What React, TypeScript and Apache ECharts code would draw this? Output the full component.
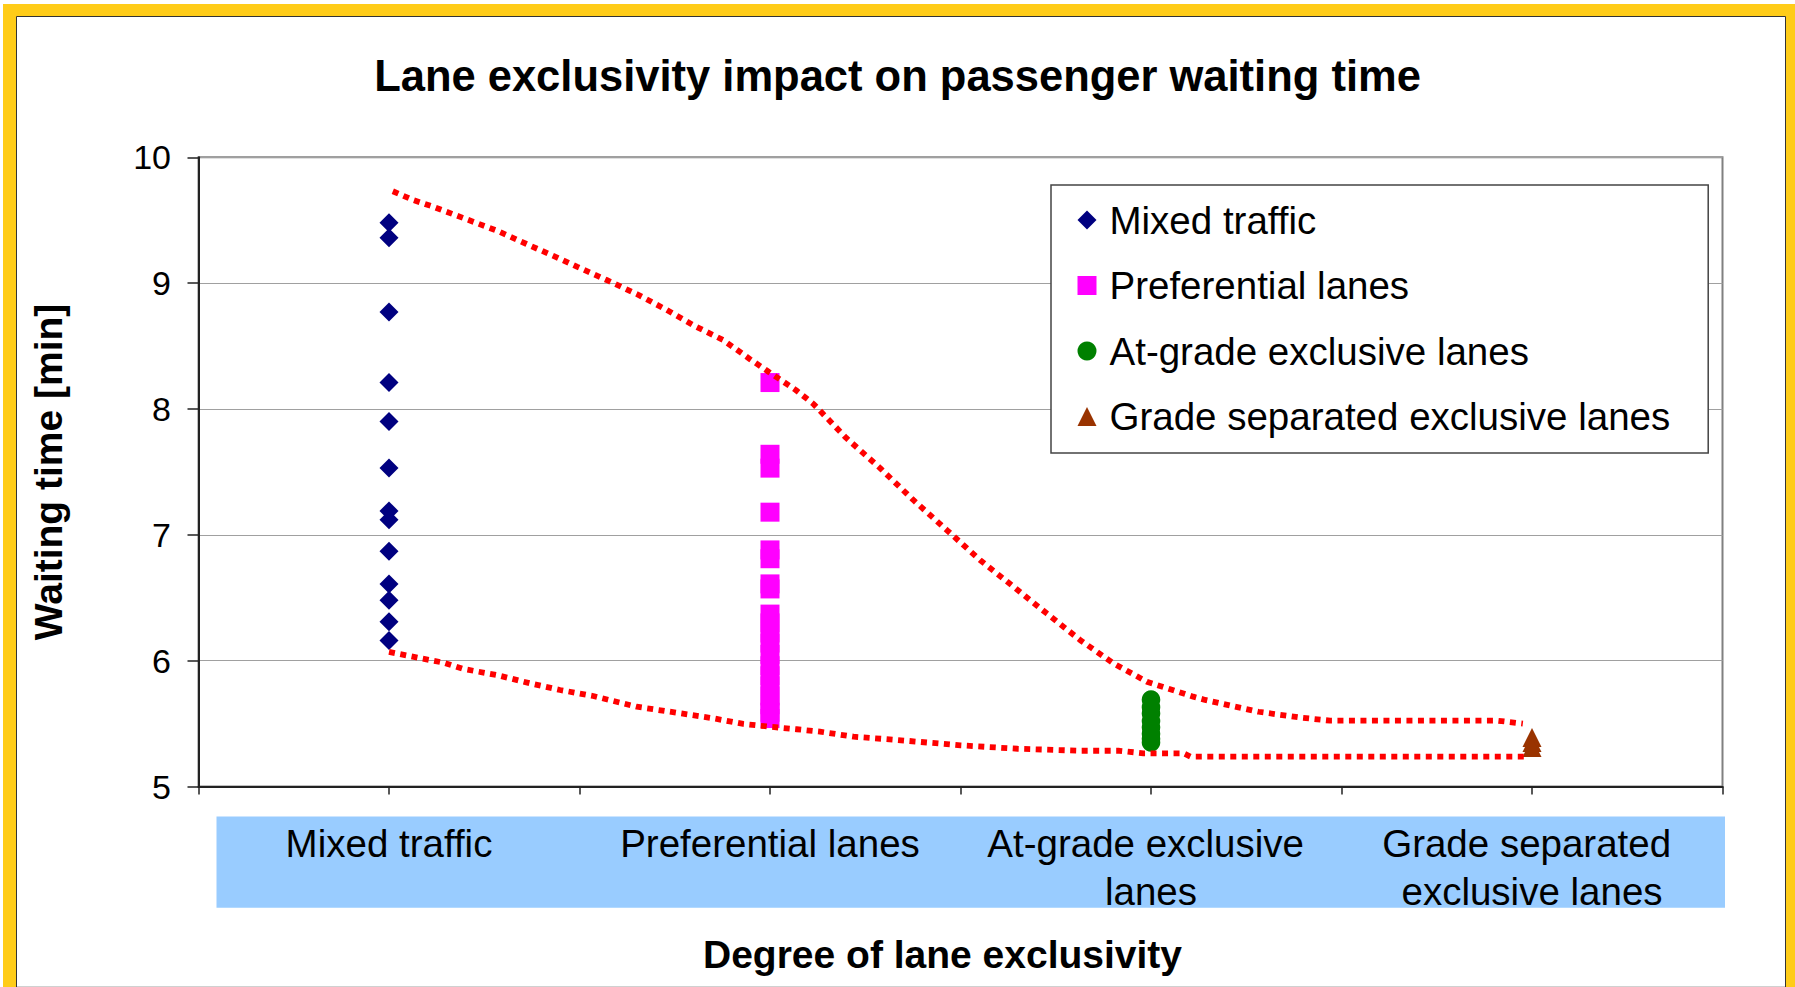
import React, { useEffect, useRef } from "react";
import * as echarts from "echarts";

// Category names along the horizontal axis (x = 1..4)
const categories = [
  "Mixed traffic",
  "Preferential lanes",
  "At-grade exclusive lanes",
  "Grade separated exclusive lanes",
];

// Waiting times [min] observed for each degree of lane exclusivity
const mixedTraffic = [9.48, 9.36, 8.77, 8.21, 7.9, 7.53, 7.19, 7.12, 6.87, 6.61, 6.48, 6.31, 6.16];
const preferentialLanes = [
  8.21, 7.64, 7.53, 7.18, 6.88, 6.81, 6.61, 6.57, 6.37, 6.3, 6.22, 6.14, 6.05, 5.96, 5.88, 5.8,
  5.72, 5.65, 5.59, 5.54,
];
const atGradeLanes = [5.69, 5.63, 5.58, 5.52, 5.47, 5.42, 5.38, 5.35];
const gradeSeparatedLanes = [5.39, 5.35, 5.31];

// Upper and lower envelope of the observed range: [x, waiting time]
const upperBound: [number, number][] = [
  [1.01, 9.73], [1.064, 9.66], [1.116, 9.607], [1.204, 9.507], [1.283, 9.417], [1.361, 9.311],
  [1.44, 9.205], [1.493, 9.131], [1.571, 9.025], [1.65, 8.914], [1.729, 8.787], [1.803, 8.659],
  [1.877, 8.548], [1.948, 8.395], [1.996, 8.296], [2.068, 8.15], [2.114, 8.04], [2.2, 7.77],
  [2.289, 7.53], [2.376, 7.277], [2.464, 7.038], [2.551, 6.8], [2.639, 6.588], [2.726, 6.376],
  [2.814, 6.164], [2.901, 5.979], [2.989, 5.833], [3.111, 5.714], [3.142, 5.688], [3.282, 5.594],
  [3.395, 5.547], [3.47, 5.523], [3.91, 5.523], [3.976, 5.5],
];
const lowerBound: [number, number][] = [
  [1.0, 6.07], [1.081, 6.02], [1.143, 5.984], [1.195, 5.934], [1.283, 5.886], [1.37, 5.82],
  [1.449, 5.767], [1.536, 5.719], [1.65, 5.634], [1.764, 5.582], [1.851, 5.542], [1.93, 5.497],
  [2.0, 5.475], [2.07, 5.455], [2.131, 5.436], [2.219, 5.396], [2.333, 5.37], [2.5, 5.327],
  [2.65, 5.3], [2.814, 5.284], [2.917, 5.284], [2.98, 5.264], [3.085, 5.264], [3.104, 5.237],
  [3.985, 5.237],
];

const Y_MIN = 5;
const Y_MAX = 10;
const Y_STEP = 1;

const FONT = "'Liberation Sans', Arial, Helvetica, sans-serif";

const toPoints = (idx: number, values: number[]) => values.map((v) => [idx + 1, v]);

export default function App() {
  const ref = useRef<HTMLDivElement>(null);

  useEffect(() => {
    if (!ref.current) return;
    const chart = echarts.init(ref.current, undefined, { renderer: "svg" });

    const envelopeStyle = {
      color: "#FF0000",
      width: 5.8,
      type: [6, 5.5] as number[],
    };

    chart.setOption({
      animation: false,
      backgroundColor: "#ffffff",
      textStyle: { fontFamily: FONT },
      title: {
        text: "Lane exclusivity impact on passenger waiting time",
        left: "center",
        top: 54,
        padding: 0,
        textStyle: { fontSize: 43.5, fontWeight: "bold", color: "#000", fontFamily: FONT },
      },
      graphic: [
        { type: "rect", silent: true, z: -30, shape: { x: 3, y: 4, width: 1800, height: 1000 }, style: { fill: "#FFCC18" } },
        {
          type: "rect", silent: true, z: -29,
          shape: { x: 16.5, y: 16.5, width: 1769, height: 975 },
          style: { fill: "#ffffff", stroke: "#333333", lineWidth: 1 },
        },
        { type: "line", silent: true, z: -28, shape: { x1: 17, y1: 986.5, x2: 1785, y2: 986.5 }, style: { stroke: "#d0d0d0", lineWidth: 1 } },
        { type: "rect", silent: true, z: -27, shape: { x: 216.5, y: 816.5, width: 1508.5, height: 91.2 }, style: { fill: "#99CCFF" } },
      ],
      legend: {
        data: categories,
        orient: "vertical",
        left: 1051,
        top: 185,
        padding: [15, 38, 16.5, 26.5],
        itemGap: 25.5,
        itemWidth: 19,
        itemHeight: 19,
        borderColor: "#444",
        borderWidth: 1.5,
        backgroundColor: "#ffffff",
        selectedMode: false,
        textStyle: { fontSize: 38.5, lineHeight: 40, color: "#000", fontFamily: FONT, padding: [0, 0, 0, 8] },
      },
      grid: {
        left: 198.5,
        right: 72.5,
        top: 157.3,
        bottom: 200.5,
        outerBoundsMode: "none",
        containLabel: false,
        show: true,
        borderColor: "#808080",
        borderWidth: 2,
        backgroundColor: "transparent",
      },
      xAxis: {
        type: "value",
        min: 0.5,
        max: 4.5,
        interval: 0.5,
        name: "Degree of lane exclusivity",
        nameLocation: "middle",
        nameGap: 148,
        nameTextStyle: { fontSize: 39, fontWeight: "bold", color: "#000", fontFamily: FONT, padding: [0, 36, 0, 0] },
        axisLine: { show: true, lineStyle: { color: "#222", width: 2 } },
        axisTick: { show: true, length: 8, lineStyle: { color: "#222", width: 1.5 } },
        splitLine: { show: false },
        axisLabel: {
          show: true,
          fontSize: 38.5,
          lineHeight: 48,
          width: 330,
          overflow: "break",
          margin: 33,
          align: "center",
          color: "#000",
          fontFamily: FONT,
          formatter: (v: number) => {
            const r = Math.round(v);
            return Math.abs(v - r) < 1e-6 && r >= 1 && r <= categories.length ? categories[r - 1] : "";
          },
        },
      },
      yAxis: {
        type: "value",
        min: Y_MIN,
        max: Y_MAX,
        interval: Y_STEP,
        name: "Waiting time [min]",
        nameLocation: "middle",
        nameGap: 131,
        nameTextStyle: { fontSize: 39, fontWeight: "bold", color: "#000", fontFamily: FONT },
        axisLine: { show: true, lineStyle: { color: "#222", width: 2 } },
        axisTick: { show: true, length: 11, lineStyle: { color: "#222", width: 1.5 } },
        axisLabel: { fontSize: 34, color: "#000", margin: 27.5, fontFamily: FONT },
        splitLine: { show: true, lineStyle: { color: "#a0a0a0", width: 1 } },
      },
      series: [
        {
          name: categories[0],
          type: "scatter",
          symbol: "diamond",
          symbolSize: 19,
          itemStyle: { color: "#000080", opacity: 1 },
          data: toPoints(0, mixedTraffic),
          z: 2,
        },
        {
          name: categories[1],
          type: "scatter",
          symbol: "rect",
          symbolSize: 19,
          itemStyle: { color: "#FF00FF", opacity: 1 },
          data: toPoints(1, preferentialLanes),
          z: 2,
        },
        {
          name: categories[2],
          type: "scatter",
          symbol: "circle",
          symbolSize: 18.6,
          itemStyle: { color: "#008000", opacity: 1 },
          data: toPoints(2, atGradeLanes),
          z: 2,
        },
        {
          name: categories[3],
          type: "scatter",
          symbol: "triangle",
          symbolSize: 19,
          itemStyle: { color: "#993300", opacity: 1 },
          data: toPoints(3, gradeSeparatedLanes),
          z: 2,
        },
        {
          name: "upper envelope",
          type: "line",
          symbol: "none",
          silent: true,
          lineStyle: envelopeStyle,
          data: upperBound,
          z: 3,
        },
        {
          name: "lower envelope",
          type: "line",
          symbol: "none",
          silent: true,
          lineStyle: envelopeStyle,
          data: lowerBound,
          z: 3,
        },
      ],
    });

    return () => chart.dispose();
  }, []);

  return (
    <div
      ref={ref}
      style={{ position: "absolute", left: 0, top: 0, width: 1795, height: 987 }}
    />
  );
}
